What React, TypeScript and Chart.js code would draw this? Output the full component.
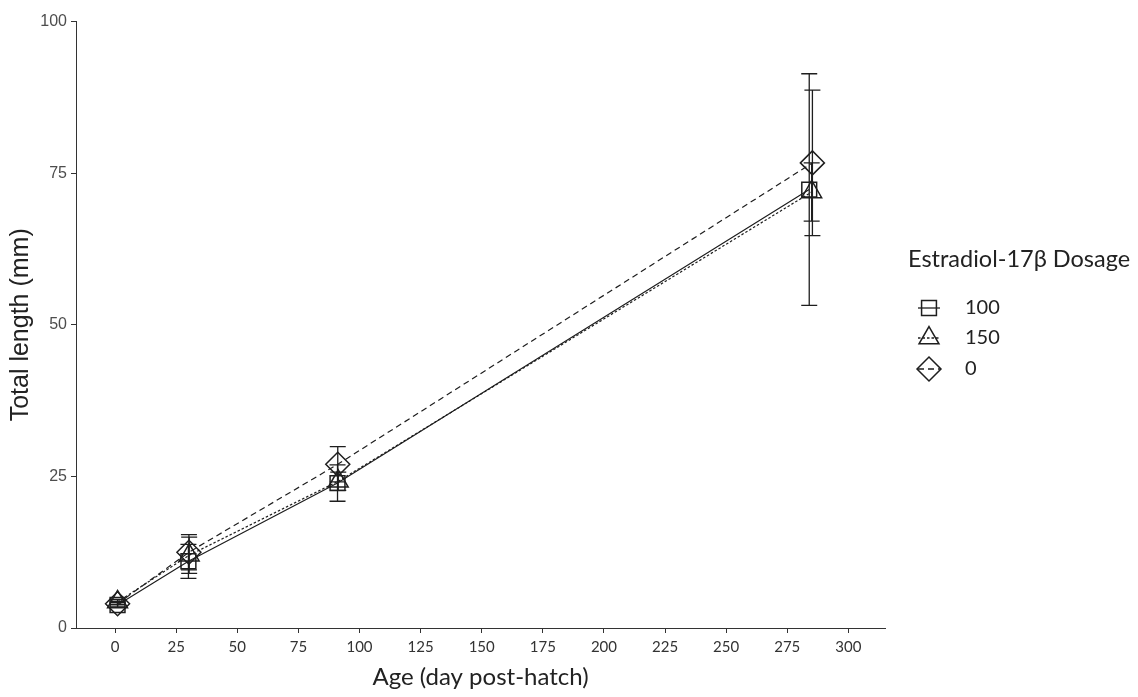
import React, { useEffect, useRef } from "react";
import { Chart, registerables } from "chart.js";

Chart.register(...registerables);

// ---- Data ----
const seriesLabels = ["100", "150", "0"];
const legendTitle = "Estradiol-17β Dosage";
const xTitle = "Age (day post-hatch)";
const yTitle = "Total length (mm)";

const age100 = [1, 30, 91, 284];
const mean100 = [3.8, 11.0, 23.9, 72.3];
const sd100 = [0.4, 2.8, 3.0, 19.1];

const age150 = [1, 30.3, 91.3, 285];
const mean150 = [4.3, 12.0, 24.2, 71.9];
const sd150 = [0.4, 3.0, 1.5, 4.8];

const age0 = [1, 30.2, 91.1, 285.3];
const mean0 = [4.0, 12.5, 27.0, 76.7];
const sd0 = [0.4, 2.9, 2.9, 12.0];

const xTickValues = [0, 25, 50, 75, 100, 125, 150, 175, 200, 225, 250, 275, 300];
const yTickValues = [0, 25, 50, 75, 100];

const INK = "#1e1e1e";
const CAL = "Lato, 'Open Sans', sans-serif";
const ARIAL = "'Liberation Sans', Arial, sans-serif";

type Sty = { pointStyle: string; radius: number; dash: number[] };
const styles: Sty[] = [
  { pointStyle: "rect", radius: 10.5, dash: [] },
  { pointStyle: "triangle", radius: 11.5, dash: [2.5, 2] },
  { pointStyle: "rectRot", radius: 12, dash: [6, 4] },
];

function shapePath(ctx: CanvasRenderingContext2D, style: string, x: number, y: number, r: number) {
  ctx.beginPath();
  if (style === "rect") {
    const s = Math.SQRT1_2 * r;
    ctx.rect(x - s, y - s, 2 * s, 2 * s);
  } else if (style === "triangle") {
    let a = 0;
    ctx.moveTo(x + Math.sin(a) * r, y - Math.cos(a) * r);
    a += (2 * Math.PI) / 3;
    ctx.lineTo(x + Math.sin(a) * r, y - Math.cos(a) * r);
    a += (2 * Math.PI) / 3;
    ctx.lineTo(x + Math.sin(a) * r, y - Math.cos(a) * r);
    ctx.closePath();
  } else {
    ctx.moveTo(x - r, y);
    ctx.lineTo(x, y - r);
    ctx.lineTo(x + r, y);
    ctx.lineTo(x, y + r);
    ctx.closePath();
  }
}

const errorBarPlugin = {
  id: "errorBars",
  beforeDatasetsDraw(chart: any) {
    const ctx = chart.ctx as CanvasRenderingContext2D;
    const xs = chart.scales.x;
    const ys = chart.scales.y;
    ctx.save();
    ctx.strokeStyle = INK;
    ctx.lineWidth = 1.3;
    ctx.setLineDash([]);
    chart.data.datasets.forEach((ds: any) => {
      ds.data.forEach((p: any) => {
        const px = xs.getPixelForValue(p.x);
        const top = ys.getPixelForValue(p.y + p.sd);
        const bot = ys.getPixelForValue(p.y - p.sd);
        const cap = 8;
        ctx.beginPath();
        ctx.moveTo(px, top);
        ctx.lineTo(px, bot);
        ctx.moveTo(px - cap, top);
        ctx.lineTo(px + cap, top);
        ctx.moveTo(px - cap, bot);
        ctx.lineTo(px + cap, bot);
        ctx.stroke();
      });
    });
    ctx.restore();
  },
};

const legendPlugin = {
  id: "customLegend",
  afterDraw(chart: any) {
    const ctx = chart.ctx as CanvasRenderingContext2D;
    const left = chart.chartArea.right + 23;
    ctx.save();
    ctx.fillStyle = "#222";
    ctx.font = `23.5px ${CAL}`;
    ctx.textBaseline = "middle";
    ctx.textAlign = "left";
    ctx.fillText(legendTitle, left, 251);
    const rowY = [300, 330, 361];
    chart.data.datasets.forEach((ds: any, i: number) => {
      const st = styles[i];
      const cy = rowY[i];
      const cx = left + 21;
      ctx.strokeStyle = INK;
      ctx.lineWidth = 1.3;
      ctx.setLineDash(st.dash);
      ctx.beginPath();
      ctx.moveTo(cx - 11, cy);
      ctx.lineTo(cx + 11, cy);
      ctx.stroke();
      ctx.setLineDash([]);
      ctx.lineWidth = 1.5;
      shapePath(ctx, st.pointStyle, cx, cy, st.radius);
      ctx.stroke();
      ctx.fillStyle = "#222";
      ctx.font = `20px ${CAL}`;
      ctx.fillText(ds.label, left + 57, cy);
    });
    ctx.restore();
  },
};

function build(ages: number[], means: number[], sds: number[]) {
  return ages.map((a, i) => ({ x: a, y: means[i], sd: sds[i] }));
}

export default function App() {
  const ref = useRef<HTMLCanvasElement | null>(null);
  useEffect(() => {
    if (!ref.current) return;
    const dataSets = [
      build(age100, mean100, sd100),
      build(age150, mean150, sd150),
      build(age0, mean0, sd0),
    ];
    const chart = new Chart(ref.current, {
      type: "scatter",
      data: {
        datasets: dataSets.map((d, i) => ({
          label: seriesLabels[i],
          data: d,
          showLine: true,
          borderColor: INK,
          borderWidth: 1.2,
          borderDash: styles[i].dash,
          pointStyle: styles[i].pointStyle as any,
          pointRadius: styles[i].radius,
          pointBorderWidth: 1.5,
          pointBorderColor: INK,
          pointBackgroundColor: "rgba(0,0,0,0)",
          fill: false,
        })),
      },
      options: {
        animation: false,
        responsive: true,
        maintainAspectRatio: false,
        layout: { padding: { left: 0, right: 245, top: 9, bottom: 0 } },
        plugins: { legend: { display: false }, tooltip: { enabled: false } },
        scales: {
          x: {
            type: "linear",
            min: -16,
            max: 315,
            afterBuildTicks: (s: any) => {
              s.ticks = xTickValues.map((v) => ({ value: v }));
            },
            afterFit: (s: any) => {
              s.height = 61;
            },
            grid: { display: true, drawOnChartArea: false, drawTicks: true, tickLength: 5, color: "#333" },
            border: { display: true, color: "#333", width: 1 },
            ticks: { color: "#333", font: { family: CAL, size: 15 }, padding: 5, maxRotation: 0 },
            title: {
              display: true,
              text: xTitle,
              color: "#222",
              font: { family: CAL, size: 24, lineHeight: 1 },
              padding: { top: 0, bottom: 0 },
            },
          },
          y: {
            type: "linear",
            min: 0,
            max: 100,
            afterBuildTicks: (s: any) => {
              s.ticks = yTickValues.map((v) => ({ value: v }));
            },
            afterFit: (s: any) => {
              s.width = 68;
            },
            grid: { display: true, drawOnChartArea: false, drawTicks: true, tickLength: 5, color: "#333" },
            border: { display: true, color: "#333", width: 1 },
            ticks: { color: "#4d4d4d", font: { family: ARIAL, size: 16 }, padding: 4 },
            title: {
              display: true,
              text: yTitle,
              color: "#222",
              font: { family: ARIAL, size: 25, lineHeight: 1 },
              padding: { top: 1, bottom: 0 },
            },
          },
        },
      },
      plugins: [errorBarPlugin, legendPlugin],
    });
    return () => chart.destroy();
  }, []);
  return (
    <div style={{ width: 1122, height: 681, position: "relative" }}>
      <canvas ref={ref} />
    </div>
  );
}
